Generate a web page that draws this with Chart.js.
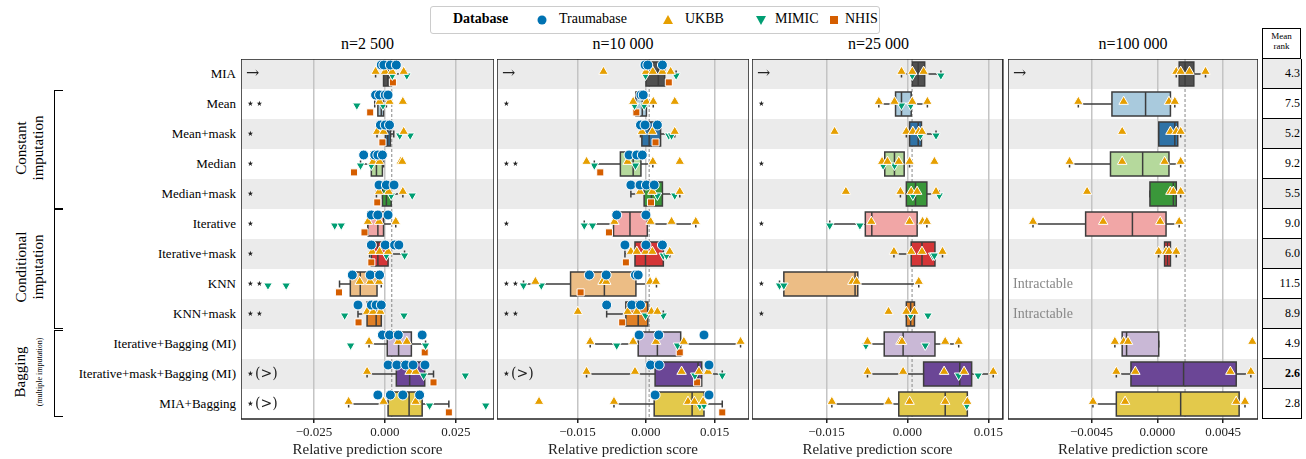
<!DOCTYPE html>
<html><head><meta charset="utf-8">
<script src="https://cdn.jsdelivr.net/npm/chart.js@4"></script>
<style>
body{margin:0;width:1306px;height:459px;background:#fff;font-family:"Liberation Serif",serif;position:relative;overflow:hidden}
.abs{position:absolute}
canvas.panel{position:absolute}
.ylab{position:absolute;right:1070px;font-size:13px;line-height:30px;white-space:nowrap}
.title{position:absolute;top:35px;font-size:16px;text-align:center}
.rank{position:absolute;left:1262px;width:37px;height:29px;border:1px solid #000;border-top:none;font-size:12px;text-align:right;line-height:29px;padding-right:1px;box-sizing:content-box}
.grp{position:absolute;font-size:15px;text-align:center;transform:rotate(-90deg);transform-origin:center;line-height:17px}
.br{position:absolute;border:1.3px solid #000;border-right:none;width:8px}
</style></head><body>
<div class="abs" style="left:430px;top:6px;width:448px;height:26px;border:1px solid #ccc;border-radius:3px;font-size:14px">
 <span class="abs" style="left:22px;top:4px;font-weight:bold">Database</span>
 <svg class="abs" style="left:105px;top:7px" width="12" height="12"><circle cx="6" cy="6" r="4.5" fill="#0072b2"/></svg>
 <span class="abs" style="left:128px;top:4px">Traumabase</span>
 <svg class="abs" style="left:231px;top:7px" width="12" height="12"><polygon points="6,1 11,10 1,10" fill="#e69f00"/></svg>
 <span class="abs" style="left:254px;top:4px">UKBB</span>
 <svg class="abs" style="left:324px;top:7px" width="12" height="12"><polygon points="1,2 11,2 6,11" fill="#009e73"/></svg>
 <span class="abs" style="left:344px;top:4px">MIMIC</span>
 <svg class="abs" style="left:397px;top:7px" width="12" height="12"><rect x="2" y="2" width="8" height="8" fill="#d55e00"/></svg>
 <span class="abs" style="left:414px;top:4px">NHIS</span>
</div>
<div class="title" style="left:241px;width:253px">n=2 500</div>
<div class="title" style="left:497px;width:252px">n=10 000</div>
<div class="title" style="left:752px;width:253px">n=25 000</div>
<div class="title" style="left:1008px;width:250px">n=100 000</div>
<div class="abs" style="left:1262px;top:28px;width:39px;height:31px;border:1px solid #000;font-size:9px;text-align:center;line-height:10px;padding-top:2px;box-sizing:border-box">Mean<br>rank</div>
<div id="ylabs"></div>
<div class="br" style="left:54px;top:90px;height:117px"></div>
<div class="br" style="left:54px;top:209px;height:118px"></div>
<div class="br" style="left:54px;top:330px;height:85px"></div>
<div class="grp" style="left:-20px;top:131px;width:100px">Constant<br>imputation</div>
<div class="grp" style="left:-30px;top:250px;width:120px">Conditional<br>imputation</div>
<div class="grp" style="left:-30px;top:354px;width:120px">Bagging<br><span style="font-size:8px">(multiple imputation)</span></div>
<canvas class="panel" id="c0" style="left:241px;top:59px"></canvas>
<canvas class="panel" id="c1" style="left:497px;top:59px"></canvas>
<canvas class="panel" id="c2" style="left:752px;top:59px"></canvas>
<canvas class="panel" id="c3" style="left:1008px;top:59px"></canvas>
<script>
const methods = ['MIA','Mean','Mean+mask','Median','Median+mask','Iterative','Iterative+mask','KNN','KNN+mask','Iterative+Bagging (MI)','Iterative+mask+Bagging (MI)','MIA+Bagging'];
const boxColors = ['#505050','#a9cadd','#2f72a6','#b5d99c','#3a973a','#f1a6a6','#d43537','#ecbd85','#e08026','#c9b8d6','#6b4696','#e3c94b'];
const meanRank = ['4.3','7.5','5.2','9.2','5.5','9.0','6.0','11.5','8.9','4.9','2.6','2.8'];
const panelTicks = [[-0.025,0,0.025],[-0.015,0,0.015],[-0.015,0,0.015],[-0.0045,0,0.0045]];
const panelRange = [[-0.0507,0.0384],[-0.0326,0.02255],[-0.0288,0.01768],[-0.01021,0.00689]];
const panelRef = [0.0024,0.0007,0.00086,0.0019];
const panelSig = [
  ['→','⋆⋆','⋆','⋆','⋆','⋆','⋆','⋆⋆','⋆⋆','','⋆(>)','⋆(>)'],
  ['→','⋆','','⋆⋆','','⋆','','⋆⋆','⋆⋆','','⋆(>)',''],
  ['→','⋆','','⋆','','⋆','','⋆','⋆','','',''],
  ['→','','','','','','','Intractable','Intractable','','','']];

// boxes: [whisker low, q1, median, q3, whisker high]
const p1Box = [[-0.0033,-0.0005,0.001,0.0022,0.0075],[-0.0036,-0.0025,-0.0013,-0.0005,0.0005],[-0.0028,0.0002,0.001,0.0019,0.0031],[-0.0086,-0.0048,-0.003,-0.0009,-0.0005],[-0.003,-0.0009,0.0005,0.0022,0.0063],[-0.006,-0.006,-0.0025,-0.0005,0.0038],[-0.0054,-0.0048,-0.0025,0.0011,0.0069],[-0.016,-0.0122,-0.0087,-0.0028,-0.0013],[-0.0095,-0.0063,-0.0031,-0.0013,-0.0013],[-0.0056,0.0008,0.0048,0.0093,0.0143],[-0.0063,0.004,0.0087,0.014,0.0171],[-0.0128,0.0011,0.0085,0.0131,0.0225]];
const p1Trauma = [[-0.0013,-0.0004,0.0019,0.004],[-0.0033,-0.0019,0.0001,0.0011],[-0.0016,0.0001,0.0016],[-0.0075,-0.0036,-0.0025,-0.0009],[-0.0021,0.0005,0.0032],[-0.0048,-0.0025,0.0011],[-0.0048,0.0001,0.0034,0.0049],[-0.0115,-0.0052,-0.0019],[-0.0095,-0.0048,-0.0031,-0.0013],[-0.0009,0.0016,0.0047,0.0131],[0.0011,0.0042,0.0073,0.0099,0.0141],[-0.0025,0.0019,0.0063,0.0122]];
const p1Ukbb = [[-0.0033,0,0.0025,0.0066],[-0.0019,0.0016,0.0063],[-0.0028,-0.0005,0.0066],[-0.0042,-0.0019,0.0055,0.0061],[-0.0021,0.0013,0.0063],[-0.006,-0.0021,0.0038],[-0.0045,-0.0019,0.0011],[-0.0089,-0.0052,-0.0021],[-0.0063,-0.0042,-0.0016],[-0.0056,0.0047,0.0077],[-0.0063,0.0087,0.0108],[-0.0128,-0.0005,0.0108]];
const p1Mimic = [[0.0026,0.0077],[-0.0099,-0.0007],[0.0052,0.0089],[-0.0086,-0.0048],[0.0022,0.0096],[-0.0177,-0.0154],[0.0005,0.0069],[-0.0412,-0.0348],[-0.0142,0.0067],[-0.0121,0.0143],[0.0136,0.0283],[0.0157,0.0355]];
const p1Nhis = [[0.0028],[-0.0052],[-0.0009],[-0.0109],[-0.0027],[-0.0072],[-0.0048],[-0.0162],[-0.0093],[0.014],[0.0171],[0.0225]];

const p2Box = [[0,0,0.0027,0.0041,0.0066],[-0.0025,-0.0022,-0.0008,0.0001,0.0016],[-0.0012,-0.0009,0.0007,0.0032,0.0063],[-0.0113,-0.0056,-0.0028,-0.0011,0.0015],[-0.0033,-0.0004,0.0012,0.0036,0.0074],[-0.0135,-0.0071,-0.0035,0.0003,0.0109],[-0.0046,-0.0024,-0.0001,0.0038,0.0052],[-0.0268,-0.0165,-0.0091,-0.0022,0.0023],[-0.0086,-0.0044,-0.0017,0.0004,0.0038],[-0.0122,-0.0017,0.0025,0.0076,0.0207],[-0.013,0.002,0.0114,0.0122,0.0167],[-0.007,0.0018,0.0101,0.0127,0.0167]];
const p2Trauma = [[-0.0002,0.0004,0.0036],[-0.0011,-0.0006],[-0.0012,-0.0002,0.0025],[-0.0037,-0.002,-0.0008],[-0.0033,-0.0013,0.0001,0.0018],[-0.0064,0],[-0.0046,0,0.0036],[-0.0124,-0.0087,-0.0023,-0.0017],[-0.0086,-0.0031,-0.0012],[-0.0015,0.0028,0.0127],[0.001,0.0029,0.0138],[0.002,0.0138]];
const p2Ukbb = [[-0.0093,0,0.0015,0.0036,0.0054],[-0.0028,0.0001,0.0016,0.0063],[-0.0009,0.0014,0.0063],[-0.013,-0.004,0.0015,0.0074],[-0.0013,0.0014,0.0074],[-0.0069,0.001,0.0056,0.0109],[-0.0033,-0.002,-0.0001,0.0014,0.0052],[-0.0242,-0.0095,-0.0087,0.0009,0.0022],[-0.0149,-0.004,-0.002,0.0012,0.0025],[-0.0122,-0.0028,0.0022,0.0083,0.0207],[-0.013,-0.0024,0.0078,0.0116,0.0136],[-0.0234,-0.007,0.0092,0.0106,0.0125]];
const p2Mimic = [[-0.0001,0.0066],[-0.0025,-0.0004],[0.005,0.0056],[-0.0113,-0.0023],[0.0025,0.0063],[-0.0135,-0.0117],[0.0038,0.0045],[-0.0268,-0.0229],[-0.0001,0.0038],[-0.0064,0.0069],[0.0107,0.0167],[0.0118,0.0127]];
const p2Nhis = [[0.005],[-0.0021],[0.0021],[-0.01],[0.0011],[-0.0081],[-0.0044],[-0.0143],[-0.0052],[0.0074],[0.0112],[0.0167]];

const p3Box = [[-0.0011,0.0009,0.002,0.0032,0.0062],[-0.0053,-0.0022,-0.0011,0.0007,0.0037],[-0.0002,0.0004,0.002,0.0026,0.0053],[-0.0047,-0.0042,-0.0024,-0.0006,0.0004],[-0.0013,-0.0002,0.0015,0.0036,0.0059],[-0.0144,-0.0078,-0.0066,0.0018,0.0036],[-0.0025,0.0007,0.0027,0.0051,0.0065],[-0.0237,-0.0229,-0.0097,-0.0092,0.0021],[-0.0002,-0.0002,0.0006,0.0013,0.0013],[-0.0076,-0.0043,-0.0008,0.0051,0.0095],[-0.0074,0.003,0.0097,0.0119,0.0159],[-0.014,-0.0016,0.007,0.0111,0.0111]];
const p3Trauma = [[],[],[],[],[],[],[],[],[],[],[],[]];
const p3Ukbb = [[-0.0011,0.0009,0.003],[-0.0053,-0.0024,0.0009,0.0037],[-0.0135,-0.0002,0.001,0.0021,0.0027],[-0.0047,-0.0037,-0.0016,0.0004,0.005],[-0.0114,-0.0013,0.0007,0.0018,0.0053],[-0.0067,0.0004,0.0028,0.0036],[-0.0025,0.0007,0.0027,0.0065],[-0.0102,-0.0094,0.0021],[-0.0035,-0.0002,0.0013],[-0.0074,-0.0013,-0.001,0.007,0.0095],[-0.0074,-0.0008,0.0068,0.0105,0.0159],[-0.014,-0.0035,0.0004,0.007,0.0111]];
const p3Mimic = [[0.0009,0.0062],[-0.0011,0.0006],[0.0024,0.0053],[-0.0045,-0.0024],[0.001,0.0059],[-0.0144,-0.0088],[0.0047,0.005],[-0.0237,-0.0229],[0.0006,0.0038],[-0.0077,0.0033],[0.0095,0.0131],[0.011]];
const p3Nhis = [[],[],[],[],[],[],[],[],[],[],[],[]];

const p4Box = [[0.0013,0.0015,0.0019,0.0025,0.0033],[-0.0054,-0.0031,-0.0008,0.0009,0.0012],[0.0001,0.0001,0.0012,0.0014,0.0016],[-0.006,-0.0032,-0.001,0.0008,0.0016],[-0.0005,-0.0005,0.0011,0.0013,0.0016],[-0.0085,-0.0049,-0.0017,0.0006,0.0015],[0.0001,0.0005,0.0007,0.0009,0.0013],null,null,[-0.0029,-0.0024,-0.0021,0.0001,0.0001],[-0.0028,-0.0018,0.0018,0.0054,0.0064],[-0.0044,-0.0028,0.0016,0.0056,0.006]];
const p4Trauma = [[],[],[],[],[],[],[],[],[],[],[],[]];
const p4Ukbb = [[0.0013,0.0016,0.0022,0.0033],[-0.0054,-0.0023,0.0008,0.0012],[-0.0024,0.0009,0.0013,0.0016],[-0.006,-0.0024,0.0005,0.0016],[-0.0048,0.0009,0.0011,0.0016],[-0.0085,-0.0037,0.0002,0.0015],[0.0001,0.0006,0.0008,0.0013],[],[],[-0.0029,-0.0023,-0.002,0.0065],[-0.0028,-0.0015,0.005,0.0064],[-0.0044,-0.0022,0.0054,0.006]];
const p4Mimic = [[],[],[],[],[],[],[],[],[],[],[],[]];
const p4Nhis = [[],[],[],[],[],[],[],[],[],[],[],[]];

const panels = [
  [p1Box,p1Trauma,p1Ukbb,p1Mimic,p1Nhis],
  [p2Box,p2Trauma,p2Ukbb,p2Mimic,p2Nhis],
  [p3Box,p3Trauma,p3Ukbb,p3Mimic,p3Nhis],
  [p4Box,p4Trauma,p4Ukbb,p4Mimic,p4Nhis]];
const panelWidths = [253,252,253,250];

// dataset appearance
const dbNames = ['Traumabase','UKBB','MIMIC','NHIS'];
const dbColors = ['#0072b2','#e69f00','#009e73','#d55e00'];
const dbStyles = ['circle','triangle','triangle','rect'];
const dbRot = [0,0,180,0];
const dbOffset = [-0.3,-0.08,0.05,0.28];
const dbRadius = [5,5.5,5,5];

// y labels and mean-rank column
const yl = document.getElementById('ylabs');
methods.forEach((m,i)=>{
  const d = document.createElement('div');
  d.className='ylab'; d.style.top=(59+i*30)+'px'; d.textContent=m; yl.appendChild(d);
  const r = document.createElement('div');
  r.className='rank'; r.style.top=(59+i*30)+'px'; r.textContent=meanRank[i];
  r.style.background = i%2===0 ? '#ebebeb' : '#fff';
  if (i===10) r.style.fontWeight='bold';
  document.body.appendChild(r);
});

const boxPlugin = {
  id:'boxes',
  beforeDraw(chart){
    const {ctx, chartArea:a, scales:{y}} = chart;
    ctx.save();
    for (let i=0;i<12;i+=2){
      const t=y.getPixelForValue(i-0.5), b=y.getPixelForValue(i+0.5);
      ctx.fillStyle='#ebebeb'; ctx.fillRect(a.left,t,a.right-a.left,b-t);
    }
    ctx.restore();
  },
  beforeDatasetsDraw(chart){
    const {ctx, chartArea:a, scales:{x,y}} = chart;
    const o = chart.options.plugins.boxes;
    ctx.save();
    ctx.setLineDash([3,2]); ctx.strokeStyle='#888'; ctx.lineWidth=1;
    const rx = x.getPixelForValue(o.ref);
    ctx.beginPath(); ctx.moveTo(rx,a.top); ctx.lineTo(rx,a.bottom); ctx.stroke();
    ctx.setLineDash([]);
    o.box.forEach((b,i)=>{
      if(!b) return;
      const [wl,q1,md,q3,wh]=b;
      const yc=y.getPixelForValue(i), h=y.getPixelForValue(i+0.4)-yc, cap=y.getPixelForValue(i+0.12)-yc;
      ctx.strokeStyle='#3d3d3d'; ctx.lineWidth=1.5;
      ctx.beginPath();
      ctx.moveTo(x.getPixelForValue(wl),yc); ctx.lineTo(x.getPixelForValue(q1),yc);
      ctx.moveTo(x.getPixelForValue(q3),yc); ctx.lineTo(x.getPixelForValue(wh),yc);
      ctx.moveTo(x.getPixelForValue(wl),yc-cap); ctx.lineTo(x.getPixelForValue(wl),yc+cap);
      ctx.moveTo(x.getPixelForValue(wh),yc-cap); ctx.lineTo(x.getPixelForValue(wh),yc+cap);
      ctx.stroke();
      const x1=x.getPixelForValue(q1), x2=x.getPixelForValue(q3);
      ctx.fillStyle=boxColors[i];
      ctx.fillRect(x1,yc-h,x2-x1,2*h);
      ctx.strokeRect(x1,yc-h,x2-x1,2*h);
      const xm=x.getPixelForValue(md);
      ctx.beginPath(); ctx.moveTo(xm,yc-h); ctx.lineTo(xm,yc+h); ctx.stroke();
    });
    ctx.restore();
  },
  afterDraw(chart){
    const {ctx, chartArea:a, scales:{y}} = chart;
    const o = chart.options.plugins.boxes;
    ctx.save();
    ctx.textBaseline='middle';
    o.sig.forEach((s,i)=>{
      if(!s) return;
      const yc=y.getPixelForValue(i);
      if(s==='Intractable'){ ctx.fillStyle='#888'; ctx.font='14px "Liberation Serif"'; ctx.fillText(s,a.left+5,yc); }
      else { ctx.fillStyle='#222'; ctx.font=(s==='→'?'16px ':'14px ')+'"DejaVu Serif"'; ctx.fillText(s,a.left+5,yc); }
    });
    ctx.strokeStyle='#222'; ctx.lineWidth=1.5;
    ctx.strokeRect(a.left,a.top,a.right-a.left,a.bottom-a.top);
    ctx.restore();
  }
};

panels.forEach((p,k)=>{
  const cv=document.getElementById('c'+k);
  cv.width=panelWidths[k]; cv.height=400;
  cv.style.width=panelWidths[k]+'px'; cv.style.height='400px';
  const datasets=[];
  for(let d=0;d<4;d++){
    const pts=[];
    p[d+1].forEach((vals,i)=>vals.forEach(v=>pts.push({x:v,y:i+dbOffset[d]})));
    datasets.push({label:dbNames[d],data:pts,pointStyle:dbStyles[d],rotation:dbRot[d],
      backgroundColor:dbColors[d],borderColor:'#fff',borderWidth:1,pointRadius:dbRadius[d],clip:false});
  }
  const ticks=panelTicks[k];
  const dec = k===3 ? 4 : 3;
  new Chart(cv,{type:'scatter',data:{datasets},plugins:[boxPlugin],
    options:{responsive:false,animation:false,events:[],
      layout:{padding:0,autoPadding:false},
      plugins:{legend:{display:false},tooltip:{enabled:false},
        boxes:{box:p[0],ref:panelRef[k],sig:panelSig[k]}},
      scales:{
        x:{min:panelRange[k][0],max:panelRange[k][1],
          afterBuildTicks:s=>{s.ticks=ticks.map(v=>({value:v}));},
          afterFit:s=>{s.height=40;},
          ticks:{color:'#222',font:{family:'Liberation Serif',size:13},padding:2,maxRotation:0,
            callback:v=>v.toFixed(dec).replace('-','−')},
          grid:{color:'#c4c4c4',lineWidth:1.5,tickLength:4,tickColor:'#222'},border:{display:false},
          title:{display:true,text:'Relative prediction score',color:'#222',font:{family:'Liberation Serif',size:15},padding:{top:0,bottom:0}}},
        y:{display:false,min:-0.5,max:11.5,reverse:true}
      }}});
});
</script>
</body></html>
